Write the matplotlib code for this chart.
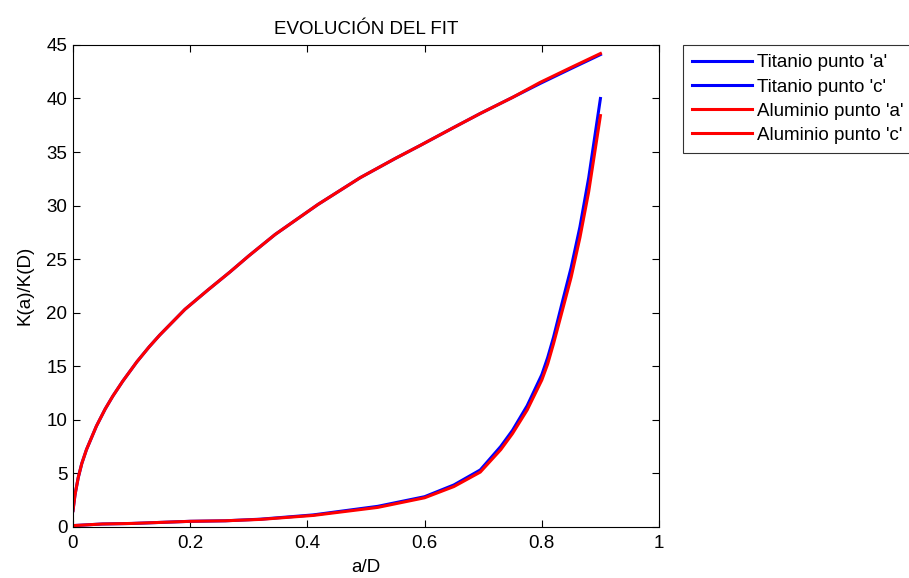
import matplotlib.pyplot as plt
import numpy as np

plt.rcParams['font.family'] = ['Liberation Sans', 'DejaVu Sans']

# a/D values and fitted K(a)/K(D) curves
x_a = [0, 0.0035, 0.009, 0.015, 0.023, 0.04, 0.055, 0.068, 0.085, 0.109, 0.13,
       0.148, 0.191, 0.23, 0.268, 0.3, 0.345, 0.418, 0.49, 0.55, 0.592, 0.65,
       0.695, 0.75, 0.797, 0.85, 0.9]
ti_a = [1.5, 3.0, 4.6, 5.9, 7.2, 9.4, 11.0, 12.2, 13.6, 15.4, 16.8,
        17.9, 20.3, 22.1, 23.8, 25.3, 27.3, 30.1, 32.6, 34.4, 35.6, 37.3,
        38.6, 40.1, 41.4, 42.8, 44.1]
al_a = [1.5, 3.0, 4.6, 5.9, 7.2, 9.4, 11.0, 12.2, 13.6, 15.4, 16.8,
        17.9, 20.3, 22.1, 23.8, 25.3, 27.3, 30.1, 32.6, 34.4, 35.6, 37.3,
        38.6, 40.1, 41.5, 42.9, 44.2]

x_c = [0, 0.05, 0.1, 0.15, 0.2, 0.26, 0.32, 0.41, 0.52, 0.6, 0.65, 0.695, 0.73,
       0.75, 0.775, 0.8, 0.81, 0.82, 0.836, 0.85, 0.865, 0.88, 0.9]
ti_c = [0.1, 0.25, 0.3, 0.4, 0.5, 0.55, 0.7, 1.1, 1.9, 2.8, 3.9, 5.3, 7.5,
        9.0, 11.3, 14.2, 15.8, 17.7, 21.2, 24.2, 28.0, 32.6, 40.0]
al_c = [0.1, 0.25, 0.3, 0.4, 0.5, 0.55, 0.68, 1.05, 1.8, 2.7, 3.75, 5.1, 7.2,
        8.7, 10.9, 13.7, 15.2, 17.1, 20.4, 23.3, 27.0, 31.3, 38.4]

labels = ["Titanio punto 'a'", "Titanio punto 'c'", "Aluminio punto 'a'", "Aluminio punto 'c'"]

fig = plt.figure(figsize=(9.09, 5.78), dpi=100)
ax = fig.add_axes([0.0803, 0.0888, 0.6447, 0.8334])

ax.plot(x_a, ti_a, color='#0000ff', lw=2.2, label=labels[0])
ax.plot(x_c, ti_c, color='#0000ff', lw=2.2, label=labels[1])
ax.plot(x_a, al_a, color='#ff0000', lw=2.2, label=labels[2])
ax.plot(x_c, al_c, color='#ff0000', lw=2.2, label=labels[3])

ax.set_xlim(0, 1)
ax.set_ylim(0, 45)
ax.set_xticks(np.arange(0, 1.01, 0.2))
ax.set_xticklabels(['0', '0.2', '0.4', '0.6', '0.8', '1'])
ax.set_yticks(np.arange(0, 46, 5))
ax.tick_params(direction='in', top=True, right=True, labelsize=13.5, length=5,
               width=0.8)
ax.tick_params(axis='x', pad=6)
ax.tick_params(axis='y', pad=4)
for s in ax.spines.values():
    s.set_linewidth(0.8)

ax.set_title('EVOLUCIÓN DEL FIT', fontsize=13.5, pad=8)
ax.set_xlabel('a/D', fontsize=13.5, labelpad=5)
ax.set_ylabel('K(a)/K(D)', fontsize=13.5, labelpad=9)

leg = fig.legend(loc='upper left', bbox_to_anchor=(0.7514, 0.9225), fontsize=13.5,
                 frameon=True, fancybox=False, edgecolor='black', handlelength=3.2,
                 borderpad=0.5, labelspacing=0.38, handletextpad=0.25,
                 borderaxespad=0)
leg.get_frame().set_linewidth(0.8)

fig.savefig('out.png', dpi=100)
